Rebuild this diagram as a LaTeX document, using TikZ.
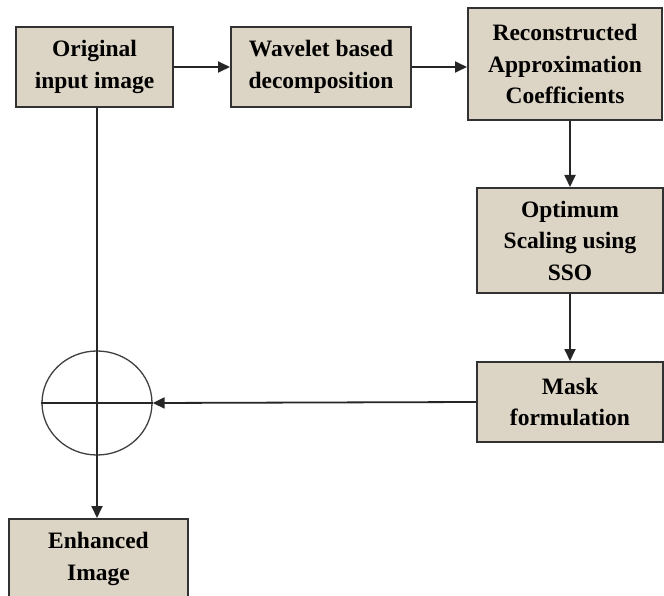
\documentclass[tikz,border=0pt]{standalone}
\usepackage{fontspec}
\setmainfont{Liberation Serif}
\usetikzlibrary{arrows.meta,shapes.geometric}
\definecolor{boxfill}{RGB}{220,212,196}
\definecolor{boxline}{RGB}{50,50,50}
\begin{document}
\begin{tikzpicture}[x=1pt,y=-1pt,
  stepbox/.style={draw=boxline,line width=2pt,fill=boxfill,inner sep=0pt,
    align=center,font=\fontsize{23.5}{31.5}\selectfont\bfseries},
  conn/.style={line width=1.8pt,draw=black!85,-{Triangle[length=12pt,width=11pt]}},
  plain/.style={line width=1.8pt,draw=black!85}]
\clip (0,0) rectangle (664,596);
\fill[white] (0,0) rectangle (664,596);
\node[stepbox,minimum width=157pt,minimum height=80pt] (b1) at (94.5,67) {Original\\input image};
\node[stepbox,minimum width=180pt,minimum height=80pt] (b2) at (321,67) {Wavelet based\\decomposition};
\node[stepbox,minimum width=194pt,minimum height=112pt] (b3) at (565,64) {Reconstructed\\Approximation\\Coefficients};
\node[stepbox,minimum width=186pt,minimum height=105pt] (b4) at (570,240.5) {Optimum\\Scaling using\\SSO};
\node[stepbox,minimum width=186pt,minimum height=80pt] (b5) at (570,402) {Mask\\formulation};
\node[stepbox,minimum width=179pt,minimum height=80pt] (b6) at (98.5,559) {Enhanced\\Image};
\node[ellipse,draw=black!75,line width=1.3pt,minimum width=110pt,minimum height=104pt,inner sep=0pt] (c) at (97,403) {};
\draw[plain] (c.west) -- (c.east);
\draw[plain] (c.north) -- (c.south);
\draw[conn] (b1.east) -- (b2.west);
\draw[conn] (b2.east) -- (b2.east -| b3.west);
\draw[conn] (b3.south -| b4.north) -- (b4.north);
\draw[conn] (b4.south) -- (b5.north);
\draw[conn] (b5.west) -- (c.east);
\draw[plain] (b1.south -| c.north) -- (c.north);
\draw[conn] (c.south) -- (c.south |- b6.north);
\end{tikzpicture}
\end{document}
